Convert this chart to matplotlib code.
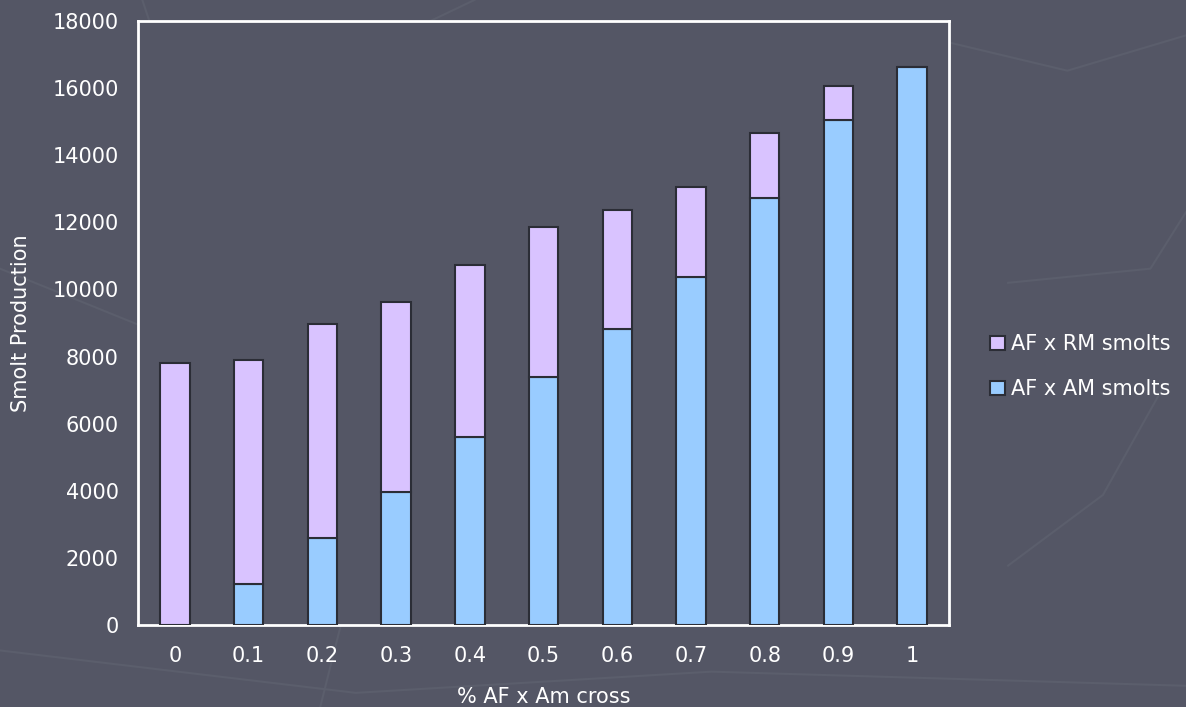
import matplotlib.pyplot as plt
import numpy as np

categories = ["0", "0.1", "0.2", "0.3", "0.4", "0.5", "0.6", "0.7", "0.8", "0.9", "1"]
am_smolts = [0, 1220, 2600, 3960, 5600, 7390, 8820, 10370, 12720, 15050, 16630]
total_smolts = [7800, 7900, 8970, 9620, 10730, 11860, 12370, 13050, 14660, 16060, 16630]
rm_smolts = [t - a for t, a in zip(total_smolts, am_smolts)]

bg = "#545665"
purple = "#d9c3ff"
blue = "#99ccff"
edge = "#2b2d36"

plt.rcParams["font.family"] = ["DejaVu Sans"]

fig = plt.figure(figsize=(11.86, 7.07), dpi=100, facecolor=bg)
ax = fig.add_axes([0.1164, 0.116, 0.6838, 0.8543], facecolor=bg)

# faint decorative lines in the background
deco = [
    [(0.0, 0.62), (0.25, 0.45), (0.3, 0.2), (0.27, 0.0)],
    [(0.12, 1.0), (0.17, 0.75), (0.13, 0.55), (0.2, 0.35)],
    [(0.25, 0.88), (0.4, 1.0)],
    [(0.35, 0.3), (0.55, 0.32), (0.62, 0.5), (0.6, 0.72), (0.7, 0.85)],
    [(0.85, 0.6), (0.97, 0.62), (1.0, 0.7)],
    [(0.85, 0.2), (0.93, 0.3), (0.98, 0.45)],
    [(0.0, 0.08), (0.3, 0.02), (0.6, 0.05), (1.0, 0.03)],
    [(0.75, 0.96), (0.9, 0.9), (1.0, 0.95)],
]
for pts in deco:
    xs, ys = zip(*pts)
    fig.add_artist(plt.Line2D(xs, ys, transform=fig.transFigure, color="#5b5e6c",
                              lw=1.5, zorder=0))

x = np.arange(len(categories))
ax.bar(x, am_smolts, width=0.4, color=blue, edgecolor=edge, linewidth=1.5,
       label="AF x AM smolts", zorder=3)
ax.bar(x, rm_smolts, width=0.4, bottom=am_smolts, color=purple, edgecolor=edge,
       linewidth=1.5, label="AF x RM smolts", zorder=3)

ax.set_xlim(-0.5, len(categories) - 0.5)
ax.set_ylim(0, 18000)
ax.set_yticks(np.arange(0, 18001, 2000))
ax.set_xticks(x, categories)
ax.tick_params(length=0, colors="white", labelsize=15)
ax.tick_params(axis="x", pad=15)
ax.tick_params(axis="y", pad=14)
for s in ax.spines.values():
    s.set_color("white")
    s.set_linewidth(2)

ax.set_xlabel("% AF x Am cross", color="white", fontsize=15, labelpad=15)
ax.set_ylabel("Smolt Production", color="white", fontsize=15, labelpad=15)

handles, labels = ax.get_legend_handles_labels()
leg = fig.legend(handles[::-1], labels[::-1], loc="center left",
                 bbox_to_anchor=(0.819, 0.481), frameon=False, fontsize=15,
                 labelcolor="white", handlelength=0.7, handleheight=0.7,
                 handletextpad=0.3, labelspacing=1.2)

plt.savefig("out.png", dpi=100, facecolor=bg)
